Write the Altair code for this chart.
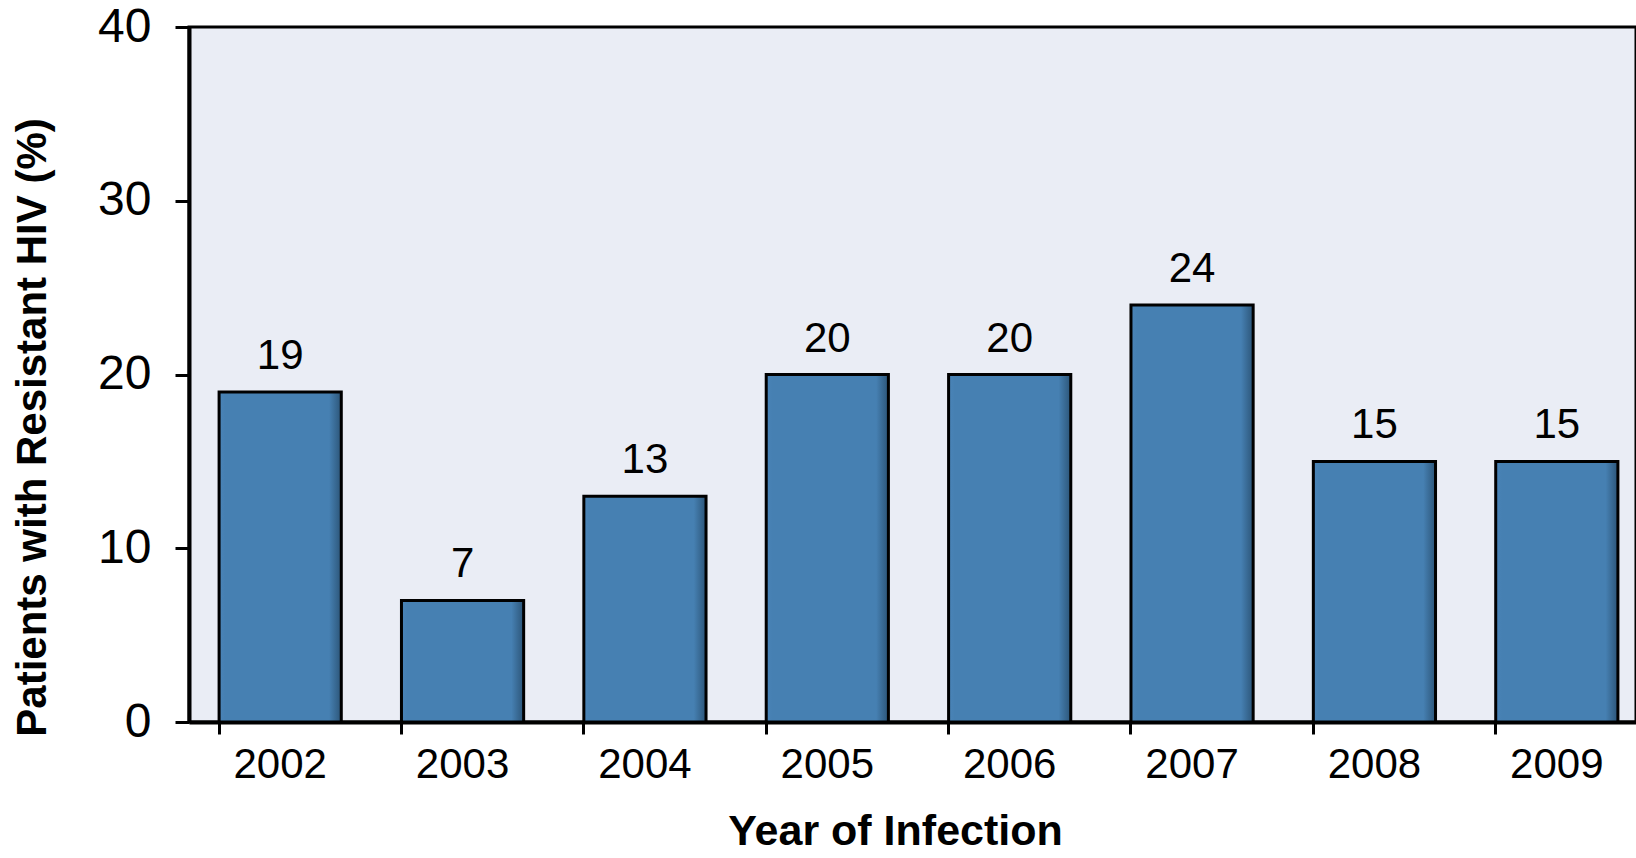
import altair as alt
import pandas as pd

years = ["2002", "2003", "2004", "2005", "2006", "2007", "2008", "2009"]
values = [19, 7, 13, 20, 20, 24, 15, 15]

df = pd.DataFrame({"year": years, "pct": values})

FONT = "Liberation Sans"
PLOT_W = 1447
BAND_RANGE = 1459

x = alt.X(
    "year:N",
    sort=years,
    scale=alt.Scale(domain=years, range=[0, BAND_RANGE], paddingInner=0.33, paddingOuter=0.165),
    axis=alt.Axis(
        title="Year of Infection",
        labelAngle=0,
        labelFontSize=42,
        labelFont=FONT,
        labelColor="black",
        labelPadding=10,
        tickSize=12,
        tickWidth=3,
        tickColor="black",
        bandPosition=0,
        domainColor="black",
        domainWidth=4,
        titleFontSize=43,
        titleFont=FONT,
        titleFontWeight="bold",
        titleColor="black",
        titlePadding=25,
        titleX=706,
    ),
)

y = alt.Y(
    "pct:Q",
    scale=alt.Scale(domain=[0, 40]),
    axis=alt.Axis(
        title="Patients with Resistant HIV (%)",
        values=[0, 10, 20, 30, 40],
        grid=False,
        labelFontSize=48,
        labelFont=FONT,
        labelColor="black",
        labelPadding=24,
        tickSize=14,
        tickWidth=3,
        tickColor="black",
        domainColor="black",
        domainWidth=4,
        titleFontSize=42,
        titleFont=FONT,
        titleFontWeight="bold",
        titleColor="black",
        titleX=-135,
        titleY=400,
    ),
)

bar_fill = alt.Gradient(
    gradient="linear",
    x1=0, x2=1, y1=0, y2=0,
    stops=[
        alt.GradientStop(offset=0, color="#4A84B8"),
        alt.GradientStop(offset=0.05, color="#4680B2"),
        alt.GradientStop(offset=0.9, color="#4680B2"),
        alt.GradientStop(offset=1, color="#2C5578"),
    ],
)

bars = alt.Chart(df).mark_bar(
    color=bar_fill, stroke="black", strokeWidth=3
).encode(x=x, y=y)

labels = alt.Chart(df).mark_text(
    baseline="bottom", dy=-14, fontSize=42, font=FONT, color="black"
).encode(x=x, y=y, text="pct:Q")

chart = (
    alt.layer(bars, labels)
    .properties(
        width=PLOT_W,
        height=695,
        autosize=alt.AutoSizeParams(type="none"),
        padding={"left": 189, "top": 27, "right": 0, "bottom": 136},
        background="white",
    )
    .configure_view(fill="#EAEDF5", stroke="black", strokeWidth=3)
)

chart.save("out.html", embed_options={"renderer": "svg", "actions": False})
